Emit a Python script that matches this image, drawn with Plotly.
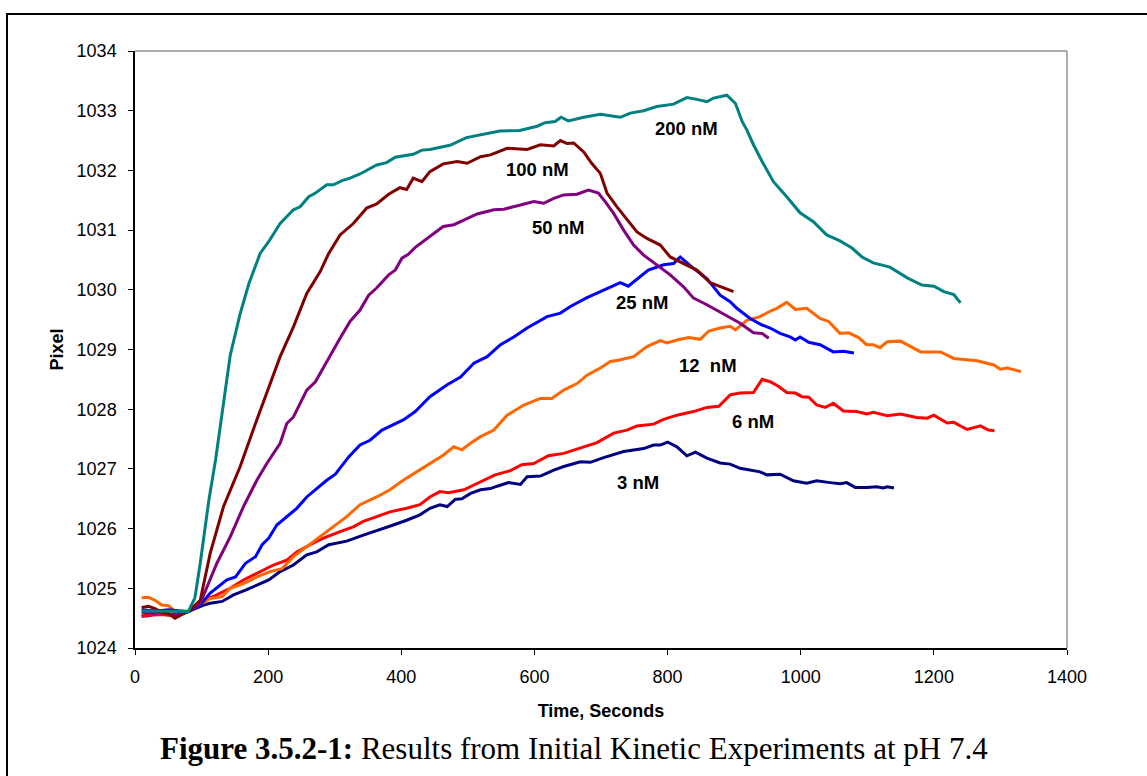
import plotly.graph_objects as go

# ---- Measured traces: time (s) and pixel position for each concentration ----
t_3nM = [10, 20, 30, 40, 50, 60, 70, 80,
         103, 113, 131, 148, 166, 183, 201, 218, 238, 258,
         273, 291, 318, 343, 368, 388, 408, 428, 443, 458,
         469, 481, 491, 504, 519, 534, 544, 561, 579, 589,
         609, 629, 644, 669, 684, 704, 734, 764, 779, 789,
         800, 814, 829, 842, 859, 879, 894, 909, 939, 949,
         969, 989, 1009, 1024, 1044, 1059, 1069, 1082, 1099, 1114,
         1124, 1130, 1140]
v_3nM = [1024.53, 1024.54, 1024.57, 1024.58, 1024.56, 1024.55, 1024.58, 1024.61,
         1024.72, 1024.75, 1024.78, 1024.89, 1024.97, 1025.05, 1025.14, 1025.28, 1025.39, 1025.56,
         1025.61, 1025.73, 1025.79, 1025.89, 1025.98, 1026.06, 1026.14, 1026.23, 1026.34, 1026.40,
         1026.37, 1026.49, 1026.50, 1026.59, 1026.65, 1026.67, 1026.71, 1026.77, 1026.74, 1026.87,
         1026.88, 1026.98, 1027.04, 1027.12, 1027.11, 1027.19, 1027.29, 1027.34, 1027.40, 1027.40,
         1027.45, 1027.37, 1027.22, 1027.28, 1027.18, 1027.10, 1027.08, 1027.01, 1026.95, 1026.90,
         1026.91, 1026.80, 1026.76, 1026.80, 1026.77, 1026.75, 1026.77, 1026.69, 1026.69, 1026.70,
         1026.68, 1026.70, 1026.68]

t_6nM = [10, 20, 30, 40, 50, 60, 70, 80,
         103, 123, 143, 163, 183, 208, 228, 243, 263, 283,
         308, 328, 343, 363, 383, 408, 428, 443, 458, 471,
         494, 509, 524, 541, 564, 581, 599, 621, 644, 669,
         694, 719, 739, 754, 779, 794, 814, 839, 859, 877,
         894, 909, 929, 942, 954, 967, 979, 992, 1002, 1012,
         1024, 1037, 1049, 1064, 1084, 1099, 1109, 1130, 1150, 1174,
         1190, 1200, 1220, 1230, 1250, 1270, 1282, 1291]
v_6nM = [1024.54, 1024.55, 1024.55, 1024.56, 1024.55, 1024.54, 1024.57, 1024.61,
         1024.80, 1024.89, 1025.00, 1025.14, 1025.25, 1025.39, 1025.47, 1025.61, 1025.73, 1025.84,
         1025.95, 1026.03, 1026.12, 1026.20, 1026.28, 1026.34, 1026.40, 1026.53, 1026.62, 1026.60,
         1026.65, 1026.73, 1026.81, 1026.90, 1026.97, 1027.07, 1027.09, 1027.22, 1027.26, 1027.35,
         1027.44, 1027.60, 1027.65, 1027.72, 1027.75, 1027.83, 1027.90, 1027.96, 1028.03, 1028.05,
         1028.24, 1028.27, 1028.28, 1028.50, 1028.46, 1028.38, 1028.28, 1028.27, 1028.21, 1028.20,
         1028.07, 1028.03, 1028.10, 1027.97, 1027.96, 1027.92, 1027.95, 1027.89, 1027.92, 1027.86,
         1027.85, 1027.90, 1027.77, 1027.78, 1027.66, 1027.72, 1027.65, 1027.64]

t_12nM = [10, 20, 30, 40, 50, 60, 70, 80,
          93, 113, 131, 143, 163, 183, 203, 221, 238, 258,
          278, 298, 318, 338, 363, 383, 403, 423, 443, 463,
          479, 491, 504, 519, 539, 559, 584, 609, 626, 644,
          664, 679, 699, 714, 726, 749, 769, 789, 799, 814,
          832, 849, 862, 879, 894, 902, 919, 939, 952, 964,
          979, 992, 1009, 1029, 1042, 1059, 1072, 1087, 1099, 1109,
          1119, 1130, 1150, 1165, 1180, 1210, 1230, 1265, 1290, 1300,
          1310, 1331]
v_12nM = [1024.84, 1024.85, 1024.80, 1024.72, 1024.71, 1024.62, 1024.60, 1024.61,
          1024.69, 1024.83, 1024.86, 1025.00, 1025.08, 1025.19, 1025.28, 1025.33, 1025.53, 1025.70,
          1025.86, 1026.03, 1026.20, 1026.40, 1026.53, 1026.65, 1026.81, 1026.95, 1027.09, 1027.23,
          1027.37, 1027.32, 1027.43, 1027.54, 1027.65, 1027.90, 1028.07, 1028.18, 1028.18, 1028.32,
          1028.43, 1028.57, 1028.69, 1028.80, 1028.82, 1028.88, 1029.05, 1029.15, 1029.11, 1029.16,
          1029.20, 1029.17, 1029.31, 1029.36, 1029.39, 1029.33, 1029.49, 1029.55, 1029.63, 1029.69,
          1029.79, 1029.67, 1029.69, 1029.52, 1029.47, 1029.27, 1029.28, 1029.20, 1029.08, 1029.08,
          1029.03, 1029.13, 1029.14, 1029.05, 1028.96, 1028.96, 1028.85, 1028.81, 1028.74, 1028.67,
          1028.69, 1028.63]

t_25nM = [10, 20, 30, 40, 50, 60, 70, 80,
          98, 113, 138, 151, 166, 181, 191, 201, 213, 228,
          243, 258, 273, 288, 301, 321, 338, 353, 371, 388,
          403, 421, 443, 469, 489, 509, 529, 549, 569, 589,
          619, 639, 654, 679, 704, 729, 741, 756, 771, 794,
          809, 819, 839, 859, 869, 879, 894, 904, 924, 942,
          954, 969, 984, 992, 999, 1012, 1029, 1049, 1064, 1080]
v_25nM = [1024.64, 1024.63, 1024.62, 1024.63, 1024.64, 1024.63, 1024.62, 1024.61,
          1024.72, 1024.92, 1025.14, 1025.19, 1025.42, 1025.53, 1025.73, 1025.84, 1026.06, 1026.20,
          1026.34, 1026.53, 1026.67, 1026.81, 1026.91, 1027.20, 1027.40, 1027.48, 1027.65, 1027.74,
          1027.82, 1027.96, 1028.21, 1028.41, 1028.54, 1028.77, 1028.88, 1029.08, 1029.21, 1029.36,
          1029.55, 1029.61, 1029.72, 1029.87, 1030.00, 1030.12, 1030.06, 1030.19, 1030.33, 1030.42,
          1030.44, 1030.55, 1030.36, 1030.19, 1030.05, 1029.91, 1029.80, 1029.69, 1029.52, 1029.41,
          1029.36, 1029.27, 1029.21, 1029.16, 1029.21, 1029.12, 1029.08, 1028.96, 1028.97, 1028.94]

t_50nM = [10, 20, 30, 40, 50, 60, 70, 80,
          98, 123, 143, 163, 183, 198, 218, 228, 238, 258,
          271, 288, 308, 323, 338, 351, 363, 381, 391, 401,
          411, 421, 443, 463, 479, 494, 514, 539, 554, 579,
          599, 614, 629, 644, 664, 681, 696, 706, 719, 734,
          749, 764, 784, 804, 824, 839, 859, 874, 892, 909,
          929, 942, 952]
v_50nM = [1024.60, 1024.59, 1024.58, 1024.60, 1024.57, 1024.56, 1024.58, 1024.61,
          1024.75, 1025.42, 1025.86, 1026.37, 1026.81, 1027.09, 1027.43, 1027.76, 1027.87, 1028.32,
          1028.46, 1028.80, 1029.19, 1029.47, 1029.66, 1029.91, 1030.03, 1030.25, 1030.33, 1030.53,
          1030.60, 1030.71, 1030.90, 1031.06, 1031.09, 1031.17, 1031.27, 1031.34, 1031.35, 1031.42,
          1031.48, 1031.45, 1031.53, 1031.59, 1031.60, 1031.67, 1031.62, 1031.48, 1031.28, 1031.00,
          1030.75, 1030.58, 1030.42, 1030.25, 1030.05, 1029.86, 1029.75, 1029.66, 1029.55, 1029.44,
          1029.28, 1029.27, 1029.19]

t_100nM = [10, 20, 30, 40, 50, 60, 70, 80,
           98, 113, 133, 158, 181, 208, 218, 238, 258, 278,
           291, 308, 328, 348, 363, 381, 398, 408, 418, 431,
           443, 463, 484, 499, 519, 534, 559, 589, 609, 629,
           639, 649, 659, 674, 686, 699, 709, 724, 739, 754,
           769, 789, 804, 829, 844, 864, 879, 892, 899]
v_100nM = [1024.68, 1024.70, 1024.66, 1024.60, 1024.58, 1024.50, 1024.56, 1024.61,
           1024.80, 1025.59, 1026.37, 1027.04, 1027.76, 1028.60, 1028.88, 1029.38, 1029.94, 1030.30,
           1030.61, 1030.92, 1031.11, 1031.37, 1031.44, 1031.60, 1031.71, 1031.68, 1031.87, 1031.81,
           1031.98, 1032.11, 1032.15, 1032.12, 1032.23, 1032.26, 1032.37, 1032.35, 1032.43, 1032.41,
           1032.50, 1032.45, 1032.46, 1032.31, 1032.12, 1031.95, 1031.62, 1031.39, 1031.17, 1030.97,
           1030.86, 1030.75, 1030.55, 1030.42, 1030.33, 1030.12, 1030.06, 1030.01, 1029.97]

t_200nM = [10, 20, 30, 40, 50, 60, 70, 80,
           90, 98, 111, 121, 143, 158, 171, 188, 201, 218, 238, 248,
           261, 271, 288, 298, 311, 323, 338, 351, 363, 378,
           391, 418, 431, 443, 473, 498, 523, 548, 578, 594,
           604, 616, 631, 640, 651, 674, 699, 729, 744, 764,
           784, 809, 829, 844, 859, 869, 889, 902, 912, 919,
           929, 942, 959, 979, 999, 1019, 1039, 1059, 1077, 1092,
           1109, 1134, 1160, 1182, 1200, 1215, 1230, 1240]
v_200nM = [1024.62, 1024.62, 1024.62, 1024.61, 1024.61, 1024.61, 1024.61, 1024.61,
           1024.84, 1025.42, 1026.48, 1027.15, 1028.90, 1029.60, 1030.10, 1030.61, 1030.81, 1031.11, 1031.34, 1031.39,
           1031.56, 1031.62, 1031.76, 1031.76, 1031.83, 1031.87, 1031.94, 1032.02, 1032.09, 1032.13,
           1032.22, 1032.27, 1032.34, 1032.35, 1032.42, 1032.55, 1032.61, 1032.66, 1032.67, 1032.71,
           1032.74, 1032.80, 1032.82, 1032.89, 1032.83, 1032.89, 1032.94, 1032.89, 1032.96, 1033.00,
           1033.07, 1033.11, 1033.22, 1033.19, 1033.15, 1033.21, 1033.26, 1033.12, 1032.82, 1032.68,
           1032.43, 1032.15, 1031.81, 1031.56, 1031.29, 1031.14, 1030.92, 1030.82, 1030.70, 1030.55,
           1030.45, 1030.38, 1030.20, 1030.08, 1030.06, 1029.97, 1029.92, 1029.78]

series_names = ["3 nM", "6 nM", "12  nM", "25 nM", "50 nM", "100 nM", "200 nM"]
series_times = [t_3nM, t_6nM, t_12nM, t_25nM, t_50nM, t_100nM, t_200nM]
series_values = [v_3nM, v_6nM, v_12nM, v_25nM, v_50nM, v_100nM, v_200nM]
series_colors = ["#000080", "#FF0000", "#FF6600", "#0000FF", "#800080", "#800000", "#008080"]

# label anchor points (time, pixel) for the in-plot concentration labels
label_t = [756, 929, 860, 762, 636, 604, 828]
label_v = [1026.78, 1027.80, 1028.74, 1029.78, 1031.05, 1032.01, 1032.71]

x_ticks = [0, 200, 400, 600, 800, 1000, 1200, 1400]
y_ticks = [1024, 1025, 1026, 1027, 1028, 1029, 1030, 1031, 1032, 1033, 1034]

SANS = "Liberation Sans, Arial"

fig = go.Figure()
for name, t, v, c in zip(series_names, series_times, series_values, series_colors):
    if len(t) != len(v):
        raise ValueError(f"length mismatch in {name}: {len(t)} vs {len(v)}")
    fig.add_trace(go.Scatter(x=t, y=v, mode="lines", name=name,
                             line=dict(color=c, width=3), showlegend=False))

for name, lt, lv in zip(series_names, label_t, label_v):
    fig.add_annotation(x=lt, y=lv, xref="x", yref="y", text=f"<b>{name}</b>",
                       showarrow=False, font=dict(family=SANS, size=18.5, color="black"))

axis_font = dict(family=SANS, size=18, color="black")
title_font = dict(family=SANS, size=18, color="black")
fig.update_xaxes(range=[0, 1400], tickvals=x_ticks, ticks="outside", ticklen=5, tickcolor="black",
                 showline=True, linecolor="black", linewidth=1.5, showgrid=False, zeroline=False,
                 tickfont=axis_font, ticklabelstandoff=7,
                 title=dict(text="<b>Time, Seconds</b>", font=title_font, standoff=18))
fig.update_yaxes(range=[1024, 1034], tickvals=y_ticks, ticks="outside", ticklen=5, tickcolor="black",
                 showline=True, linecolor="black", linewidth=1.5, showgrid=False, zeroline=False,
                 tickfont=axis_font, ticklabelstandoff=8,
                 title=dict(text="<b>Pixel</b>", font=title_font, standoff=8))

# grey top/right border of the plotting area
fig.add_shape(type="line", xref="paper", yref="paper", x0=0, x1=1, y0=1, y1=1,
              line=dict(color="#909090", width=1.5))
fig.add_shape(type="line", xref="paper", yref="paper", x0=1, x1=1, y0=0, y1=1,
              line=dict(color="#909090", width=1.5))

# outer frame around the figure
fig.add_shape(type="rect", xref="paper", yref="paper",
              x0=(7 - 135) / 932, x1=(1152 - 135) / 932,
              y0=(648 - 782) / 597, y1=(648 - 14) / 597,
              line=dict(color="black", width=2))

# figure caption
fig.add_annotation(xref="paper", yref="paper", x=(574 - 135) / 932, y=(648 - 748) / 597,
                   text="<b>Figure 3.5.2-1:</b> Results from Initial Kinetic Experiments at pH 7.4",
                   showarrow=False, xanchor="center", yanchor="middle",
                   font=dict(family="Liberation Serif, Times New Roman", size=31, color="black"))

fig.update_layout(width=1147, height=776,
                  margin=dict(l=135, r=80, t=51, b=128),
                  paper_bgcolor="white", plot_bgcolor="white")

fig.write_html("out.html")
